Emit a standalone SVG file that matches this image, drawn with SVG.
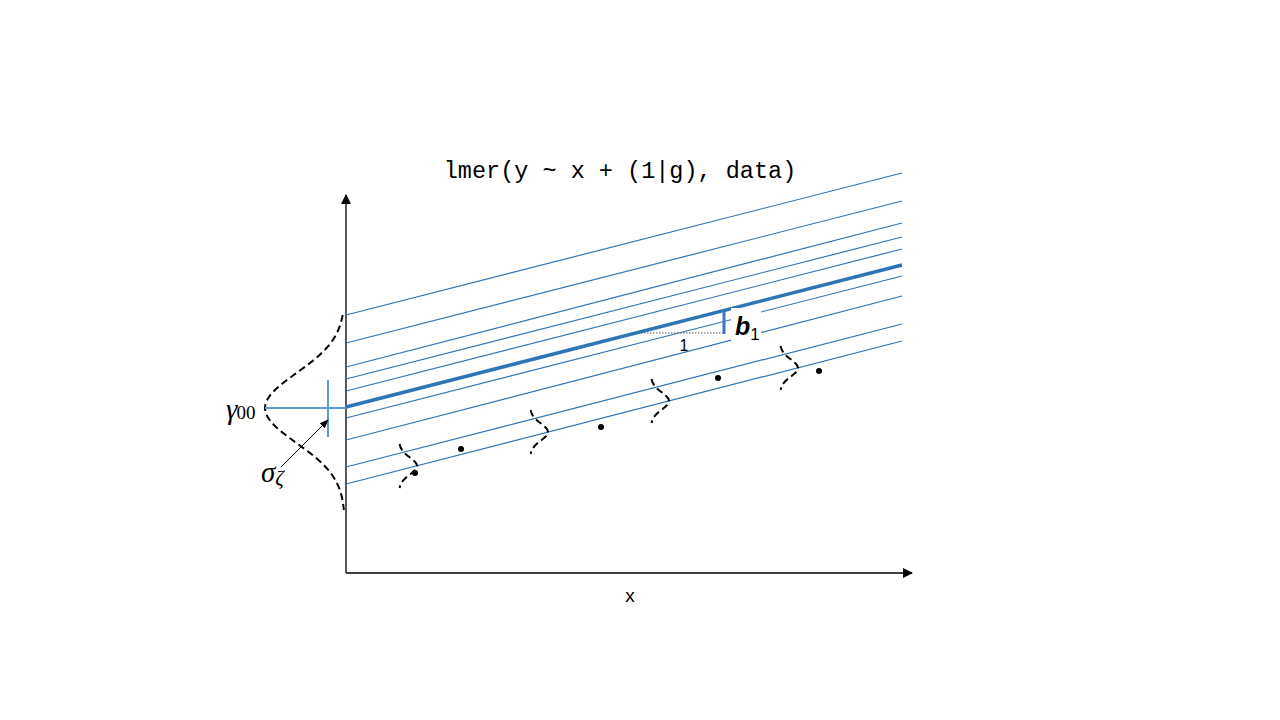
<svg xmlns="http://www.w3.org/2000/svg" width="1280" height="720" viewBox="0 0 1280 720">
<style>
.fit{stroke:#2E75B6;stroke-width:1.2;fill:none}
.thick{stroke:#2E75B6;stroke-width:3.5;fill:none}
.dash{stroke:#000;stroke-width:2;stroke-dasharray:7,4;fill:none}
.axis{stroke:#000;stroke-width:1.3;fill:none}
.dot{fill:#000}
.lab{font-family:"Liberation Serif",serif;fill:#000}
</style>
<defs>
<marker id="ah" viewBox="0 0 10 10" refX="9" refY="5" markerWidth="10" markerHeight="10" markerUnits="userSpaceOnUse" orient="auto">
<path d="M0,0 L10,5 L0,10 z" fill="#000"/>
</marker>
<marker id="ah2" viewBox="0 0 10 10" refX="9" refY="5" markerWidth="9" markerHeight="9" markerUnits="userSpaceOnUse" orient="auto">
<path d="M0,1 L10,5 L0,9 z" fill="#000"/>
</marker>
<path id="sg" d="M-17.4,-22 L-16.9,-20 L-16.1,-18 L-14.9,-16 L-13.4,-14 L-11.4,-12 L-9,-10 L-6.4,-8 L-4,-6 L-1.9,-4 L-0.5,-2 L0,0 L-0.5,2 L-1.9,4 L-4,6 L-6.4,8 L-9,10 L-11.4,12 L-13.4,14 L-14.9,16 L-16.1,18 L-16.9,20 L-17.4,22"/>
</defs>
<rect width="1280" height="720" fill="#fff"/>

<g id="title"><text x="620" y="178" text-anchor="middle" font-family="Liberation Mono, monospace" font-size="23.5" fill="#000">lmer(y ~ x + (1|g), data)</text></g>

<g id="axes">
<line class="axis" x1="346" y1="573" x2="346" y2="195" marker-end="url(#ah)"/>
<line class="axis" x1="346" y1="573" x2="912" y2="573" marker-end="url(#ah)"/>
<text x="630" y="602" text-anchor="middle" font-family="Liberation Sans, sans-serif" font-size="19" fill="#000">x</text>
</g>

<g id="group-lines">
<line class="fit" x1="346" y1="315" x2="902" y2="173"/>
<line class="fit" x1="346" y1="343" x2="902" y2="201"/>
<line class="fit" x1="346" y1="367" x2="902" y2="223"/>
<line class="fit" x1="346" y1="379" x2="902" y2="237"/>
<line class="fit" x1="346" y1="391" x2="902" y2="249"/>
<line class="fit" x1="346" y1="418" x2="902" y2="276"/>
<line class="fit" x1="346" y1="440" x2="902" y2="296"/>
<line class="fit" x1="346" y1="467" x2="902" y2="324"/>
<line class="fit" x1="346" y1="484" x2="902" y2="341"/>
<line class="thick" x1="346" y1="407" x2="902" y2="265"/>
</g>

<g id="slope">
<line x1="641" y1="333" x2="724" y2="333" stroke="#555" stroke-width="1" stroke-dasharray="1.5,1.5"/>
<line x1="724" y1="311" x2="724" y2="334" stroke="#4472C4" stroke-width="3"/>
<text x="684" y="351" text-anchor="middle" font-family="Liberation Sans, sans-serif" font-size="16" fill="#000">1</text>
<rect x="731" y="308" width="30" height="34" fill="#fff"/>
<text x="735" y="335" font-family="Liberation Sans, sans-serif" font-size="25" font-style="italic" font-weight="bold" fill="#000">b<tspan font-size="17" font-weight="normal" font-style="normal" dy="5">1</tspan></text>
</g>

<g id="random-intercept-dist">
<polyline class="dash" points="342.7,315 341.6,320 340.2,325 338.3,330 335.9,335 332.9,340 329.2,345 324.7,350 319.6,355 313.8,360 307.4,365 300.6,370 293.7,375 286.9,380 280.5,385 274.9,390 270.3,395 267.1,400 265.3,405 265,408 265.3,411 267.1,416 270.3,421 274.9,426 280.5,431 286.9,436 293.7,441 300.6,446 307.4,451 313.8,456 319.6,461 324.7,466 329.2,471 332.9,476 335.9,481 338.3,486 340.2,491 341.6,496 342.7,501 343.4,506 343.9,510"/>
<line x1="265" y1="408" x2="346" y2="408" stroke="#5B9BD5" stroke-width="2"/>
<line x1="328" y1="380" x2="328" y2="437" stroke="#5B9BD5" stroke-width="2"/>
<line x1="281" y1="467" x2="328" y2="420" stroke="#000" stroke-width="1" marker-end="url(#ah2)"/>
<text class="lab" x="226" y="419" font-size="29" font-style="italic">γ<tspan font-size="19" font-style="normal" dx="-1">00</tspan></text>
<text class="lab" x="261" y="482" font-size="29" font-style="italic">σ<tspan font-size="21" dy="3">ζ</tspan></text>
</g>

<g id="residual-dists">
<use href="#sg" class="dash" transform="translate(417,466)"/>
<use href="#sg" class="dash" transform="translate(548,432)"/>
<use href="#sg" class="dash" transform="translate(669,401)"/>
<use href="#sg" class="dash" transform="translate(798,368)"/>
</g>

<g id="points">
<circle class="dot" cx="415" cy="473" r="3"/>
<circle class="dot" cx="461" cy="449" r="3"/>
<circle class="dot" cx="601" cy="427" r="3"/>
<circle class="dot" cx="718" cy="378" r="3"/>
<circle class="dot" cx="819" cy="371" r="3"/>
</g>
</svg>
